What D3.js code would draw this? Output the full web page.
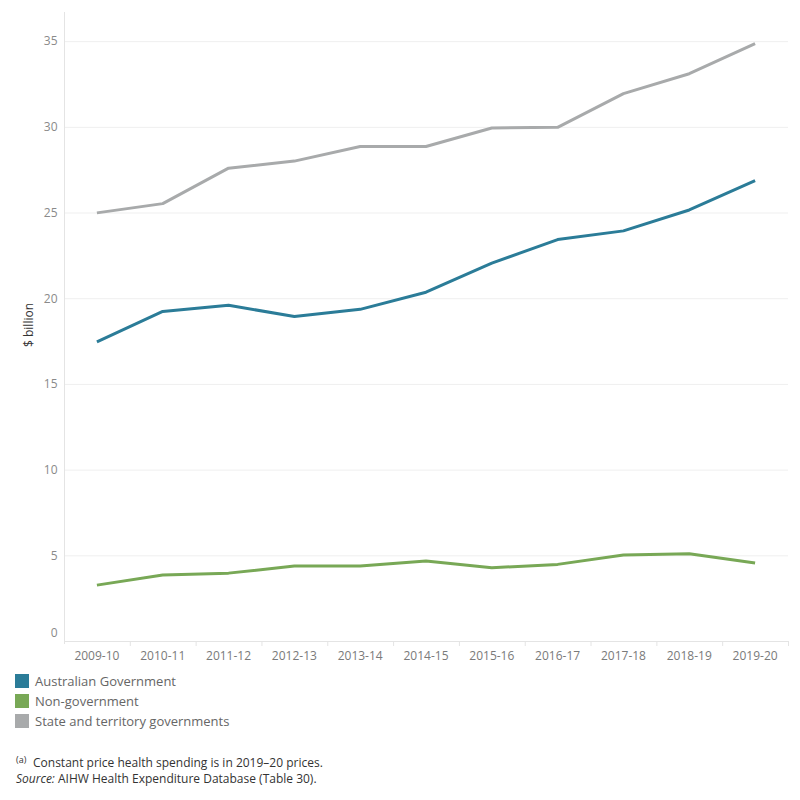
<!DOCTYPE html>
<html>
<head>
<meta charset="utf-8">
<script src="https://cdn.jsdelivr.net/npm/d3@7"></script>
<style>
  body { margin: 0; background: #fff; }
  text { font-family: "Open Sans", "Noto Sans", sans-serif; }
</style>
</head>
<body>
<div id="chart"></div>
<script>
// Years on the x-axis
const years = ['2009-10', '2010-11', '2011-12', '2012-13', '2013-14', '2014-15',
  '2015-16', '2016-17', '2017-18', '2018-19', '2019-20'];

// $ billion, constant 2019-20 prices
const australianGov = [17.45, 19.23, 19.59, 18.93, 19.35, 20.35, 22.05, 23.42, 23.93, 25.15, 26.86];
const nonGov = [3.26, 3.85, 3.96, 4.37, 4.37, 4.67, 4.27, 4.47, 5.02, 5.09, 4.55];
const stateGov = [24.98, 25.52, 27.59, 28.0, 28.85, 28.85, 29.93, 29.97, 31.94, 33.1, 34.86];

const seriesNames = ['Australian Government', 'Non-government', 'State and territory governments'];
const seriesColors = ['#2b7c98', '#78a856', '#a8aaab'];
const yTicks = [0, 5, 10, 15, 20, 25, 30, 35];

const series = [
  { name: seriesNames[0], values: australianGov, color: seriesColors[0] },
  { name: seriesNames[1], values: nonGov, color: seriesColors[1] },
  { name: seriesNames[2], values: stateGov, color: seriesColors[2] }
];

const W = 800, H = 800;
const plot = { left: 64, right: 788, top: 12, bottom: 641 };

const svg = d3.select('#chart').append('svg')
  .attr('width', W)
  .attr('height', H);

// Scales
const xScale = d3.scaleBand()
  .domain(years)
  .range([plot.left, plot.right]);

const yScale = d3.scaleLinear()
  .domain([0, 36.7])
  .range([plot.bottom, plot.top]);

// Grid lines
svg.append('g')
  .selectAll('line')
  .data(yTicks.filter(d => d > 0))
  .enter()
  .append('line')
    .attr('x1', plot.left)
    .attr('x2', plot.right)
    .attr('y1', d => yScale(d) + 0.5)
    .attr('y2', d => yScale(d) + 0.5)
    .attr('stroke', '#efefef')
    .attr('stroke-width', 1);

// Y axis
const yAxis = svg.append('g')
  .attr('transform', 'translate(' + (plot.left + 0.5) + ',0)')
  .call(d3.axisLeft(yScale).tickValues(yTicks).tickSize(0).tickPadding(7));
yAxis.select('.domain')
  .attr('stroke', '#e4e4e4')
  .attr('d', 'M0,' + plot.top + 'V' + (plot.bottom + 3));
yAxis.selectAll('text')
  .attr('font-size', 12)
  .attr('fill', '#8a8a8a')
  .attr('dy', d => d === 0 ? '-0.35em' : '0.32em');

// X axis
const xAxis = svg.append('g')
  .attr('transform', 'translate(0,' + (plot.bottom + 0.5) + ')')
  .call(d3.axisBottom(xScale).tickSize(0).tickPadding(10));
xAxis.select('.domain').attr('stroke', '#e4e4e4').attr('d', 'M' + plot.left + ',0H' + plot.right);
xAxis.selectAll('text')
  .attr('font-size', 12)
  .attr('fill', '#7a7a7a');

// band dividers on the x header
svg.append('g')
  .selectAll('line')
  .data(years.slice(1).concat(['end']))
  .enter()
  .append('line')
    .attr('x1', d => (d === 'end' ? plot.right : xScale(d)) + 0.5)
    .attr('x2', d => (d === 'end' ? plot.right : xScale(d)) + 0.5)
    .attr('y1', plot.bottom)
    .attr('y2', plot.bottom + 5)
    .attr('stroke', '#e4e4e4');

// Y-axis title
svg.append('text')
  .attr('transform', 'translate(33,325) rotate(-90)')
  .attr('text-anchor', 'middle')
  .attr('font-size', 12)
  .attr('fill', '#333')
  .text('$ billion');

// Lines
const line = d3.line()
  .x((d, i) => xScale(years[i]) + xScale.bandwidth() / 2)
  .y(d => yScale(d));

svg.append('g')
  .selectAll('path')
  .data(series)
  .enter()
  .append('path')
    .attr('d', d => line(d.values))
    .attr('fill', 'none')
    .attr('stroke', d => d.color)
    .attr('stroke-width', 3)
    .attr('stroke-linejoin', 'round');

// Legend
const legend = svg.append('g')
  .selectAll('g')
  .data(series)
  .enter()
  .append('g')
    .attr('transform', (d, i) => 'translate(15,' + (674 + i * 20) + ')');
legend.append('rect')
  .attr('width', 14)
  .attr('height', 14)
  .attr('fill', d => d.color);
legend.append('text')
  .attr('x', 20)
  .attr('y', 12)
  .attr('font-size', 13)
  .attr('fill', '#666')
  .text(d => d.name);

// Footnotes
const note = svg.append('g').attr('fill', '#333');
note.append('text')
  .attr('x', 16).attr('y', 763)
  .attr('font-size', 9)
  .text('(a)');
note.append('text')
  .attr('x', 33).attr('y', 767)
  .attr('font-size', 12)
  .text('Constant price health spending is in 2019–20 prices.');
const src = note.append('text')
  .attr('x', 16).attr('y', 783)
  .attr('font-size', 12);
src.append('tspan').attr('font-style', 'italic').text('Source:');
src.append('tspan').text(' AIHW Health Expenditure Database (Table 30).');
</script>
</body>
</html>
